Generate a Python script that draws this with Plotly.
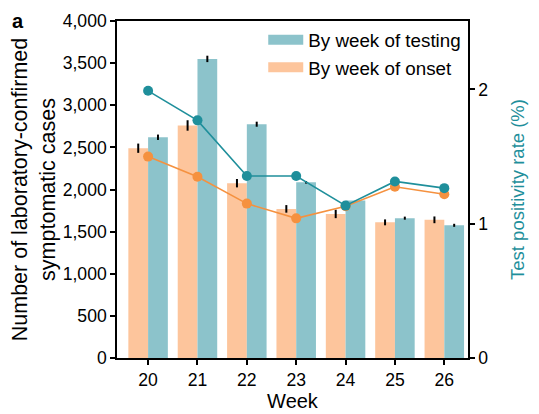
import plotly.graph_objects as go
from plotly.subplots import make_subplots

weeks = [20, 21, 22, 23, 24, 25, 26]

# cases by week of onset / testing (left axis)
onset_cases = [2490, 2760, 2075, 1770, 1710, 1610, 1640]
onset_err = [55, 62, 50, 45, 50, 35, 40]
testing_cases = [2620, 3550, 2775, 2085, 1870, 1660, 1575]
testing_err = [32, 38, 30, 15, 0, 18, 18]

# test positivity rate in % (right axis)
testing_rate = [1.99, 1.77, 1.355, 1.355, 1.135, 1.315, 1.265]
onset_rate = [1.50, 1.35, 1.15, 1.04, 1.13, 1.275, 1.22]

ORANGE_BAR = "#FDC59C"
TEAL_BAR = "#8CC3CB"
ORANGE_LINE = "#F5913F"
TEAL_LINE = "#1F8F9B"
FONT = "Liberation Sans, Arial, sans-serif"

fig = make_subplots(specs=[[{"secondary_y": True}]])

fig.add_trace(
    go.Bar(
        x=weeks, y=onset_cases, width=0.4, offset=-0.4,
        marker=dict(color=ORANGE_BAR, line=dict(width=0)),
        error_y=dict(type="data", array=onset_err, color="black", thickness=2, width=0),
        showlegend=False,
    ),
    secondary_y=False,
)
fig.add_trace(
    go.Bar(
        x=weeks, y=testing_cases, width=0.4, offset=0,
        marker=dict(color=TEAL_BAR, line=dict(width=0)),
        error_y=dict(type="data", array=testing_err, color="black", thickness=2, width=0),
        showlegend=False,
    ),
    secondary_y=False,
)
fig.add_trace(
    go.Scatter(
        x=weeks, y=onset_rate, mode="lines+markers",
        line=dict(color=ORANGE_LINE, width=1.6),
        marker=dict(color=ORANGE_LINE, size=10),
        showlegend=False,
    ),
    secondary_y=True,
)
fig.add_trace(
    go.Scatter(
        x=weeks, y=testing_rate, mode="lines+markers",
        line=dict(color=TEAL_LINE, width=1.6),
        marker=dict(color=TEAL_LINE, size=10),
        showlegend=False,
    ),
    secondary_y=True,
)

# legend entries: thick line swatches look like the wide boxes of the original
for name, color in [("By week of testing", TEAL_BAR), ("By week of onset", ORANGE_BAR)]:
    fig.add_trace(
        go.Scatter(x=[None], y=[None], mode="lines", name=name,
                   line=dict(color=color, width=14)),
        secondary_y=False,
    )

fig.update_xaxes(
    domain=[0, 1],
    range=[19.37, 26.48], tickvals=weeks, ticks="outside", ticklen=5,
    tickcolor="black", tickwidth=1.5, linecolor="black", linewidth=1.5,
    showgrid=False, mirror=True, tickfont=dict(size=17.6), automargin=False,
    title=dict(text="Week", font=dict(size=20), standoff=2),
)
fig.update_yaxes(
    range=[0, 4000], dtick=500, tickformat=",", ticks="outside", ticklen=5,
    tickcolor="black", tickwidth=1.5, linecolor="black", linewidth=1.5,
    showgrid=False, zeroline=False, tickfont=dict(size=17.6), automargin=False,
    title=dict(text="Number of laboratory-confirmed<br>symptomatic cases",
               font=dict(size=21.5), standoff=8),
    secondary_y=False,
)
fig.update_yaxes(
    range=[0, 2.51], tickvals=[0, 1, 2], ticks="outside", ticklen=5,
    tickcolor="black", tickwidth=1.5, linecolor="black", linewidth=1.5,
    showgrid=False, zeroline=False, tickfont=dict(size=17.6), automargin=False,
    title=dict(text="Test positivity rate (%)", font=dict(size=18.5, color=TEAL_LINE),
               standoff=24),
    secondary_y=True,
)

fig.add_annotation(
    text="<b>a</b>", x=-0.305, y=1.0, xref="paper", yref="paper",
    xanchor="left", yanchor="middle", showarrow=False, font=dict(size=20),
)

# page body keeps an 8 px margin, so the figure is shrunk by that much
fig.update_layout(
    width=531, height=406,
    margin=dict(l=109, r=71, t=13, b=56),
    barmode="overlay",
    plot_bgcolor="white", paper_bgcolor="white",
    font=dict(family=FONT, color="black"),
    legend=dict(x=0.995, y=1.0, xanchor="right", yanchor="top",
                font=dict(size=18.8), bgcolor="rgba(0,0,0,0)",
                tracegroupgap=0, itemwidth=35),
    showlegend=True,
)

fig.write_html("out.html")
